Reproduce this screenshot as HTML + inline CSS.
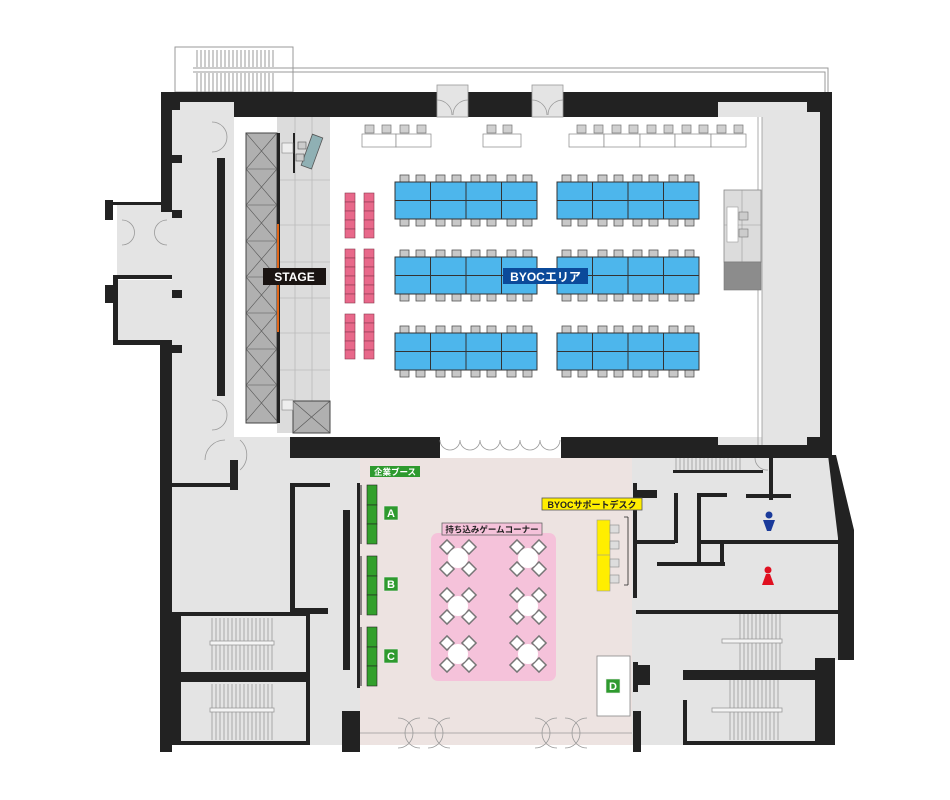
<!DOCTYPE html>
<html><head><meta charset="utf-8"><style>
html,body{margin:0;padding:0;background:#fff;width:950px;height:800px;overflow:hidden}
svg{display:block}
text{font-family:"Liberation Sans","Noto Sans CJK JP",sans-serif;font-weight:bold}
</style></head><body>
<svg width="950" height="800" viewBox="0 0 950 800" xmlns="http://www.w3.org/2000/svg">
<defs>
  <g id="tg">
    <g fill="#c8c8c8" stroke="#555" stroke-width="0.8">
      <rect x="5" y="-7" width="9" height="7"/><rect x="21" y="-7" width="9" height="7"/>
      <rect x="41" y="-7" width="9" height="7"/><rect x="57" y="-7" width="9" height="7"/>
      <rect x="76" y="-7" width="9" height="7"/><rect x="92" y="-7" width="9" height="7"/>
      <rect x="112" y="-7" width="9" height="7"/><rect x="128" y="-7" width="9" height="7"/>
      <rect x="5" y="37" width="9" height="7"/><rect x="21" y="37" width="9" height="7"/>
      <rect x="41" y="37" width="9" height="7"/><rect x="57" y="37" width="9" height="7"/>
      <rect x="76" y="37" width="9" height="7"/><rect x="92" y="37" width="9" height="7"/>
      <rect x="112" y="37" width="9" height="7"/><rect x="128" y="37" width="9" height="7"/>
    </g>
    <rect x="0" y="0" width="142" height="37" fill="#4db6ec" stroke="#333" stroke-width="1"/>
    <path d="M0 18.5H142M35.5 0V37M71 0V37M106.5 0V37" stroke="#333" stroke-width="1"/>
  </g>
  <g id="gt">
    <g fill="#fff" stroke="#777" stroke-width="1.5">
      <rect x="-16" y="-16" width="10" height="10" transform="rotate(45 -11 -11)"/>
      <rect x="6" y="-16" width="10" height="10" transform="rotate(45 11 -11)"/>
      <rect x="-16" y="6" width="10" height="10" transform="rotate(45 -11 11)"/>
      <rect x="6" y="6" width="10" height="10" transform="rotate(45 11 11)"/>
    </g>
    <circle cx="0" cy="0" r="10" fill="#fff"/>
  </g>
  <g id="pk"><rect x="0" y="0" width="10" height="9" fill="#e8688a" stroke="#8a3a50" stroke-width="0.6"/></g>
</defs>

<!-- top exterior stair/rail -->
<g fill="none" stroke="#999" stroke-width="1">
  <rect x="175" y="47" width="118" height="45"/>
  <path d="M193 68H828V92M193 72H825V92"/>
  <path d="M197 50V67M201 50V67M205 50V67M209 50V67M213 50V67M217 50V67M221 50V67M225 50V67M229 50V67M233 50V67M237 50V67M241 50V67M245 50V67M249 50V67M253 50V67M257 50V67M261 50V67M265 50V67M269 50V67M273 50V67"/>
  <path d="M197 73V92M201 73V92M205 73V92M209 73V92M213 73V92M217 73V92M221 73V92M225 73V92M229 73V92M233 73V92M237 73V92M241 73V92M245 73V92M249 73V92M253 73V92M257 73V92M261 73V92M265 73V92M269 73V92M273 73V92"/>
</g>

<!-- gray areas -->
<rect x="172" y="100" width="62" height="370" fill="#e4e4e4"/>
<rect x="234" y="437" width="56" height="23" fill="#e4e4e4"/>
<rect x="718" y="102" width="102" height="350" fill="#e4e4e4"/>
<rect x="117" y="205" width="55" height="70" fill="#e4e4e4"/>
<rect x="117" y="280" width="55" height="62" fill="#e4e4e4"/>
<rect x="172" y="458" width="190" height="287" fill="#e4e4e4"/>
<rect x="632" y="458" width="200" height="287" fill="#e4e4e4"/>
<polygon points="828,458 846,540 846,660 828,660" fill="#e4e4e4"/>
<rect x="360" y="458" width="272" height="287" fill="#ede3e1"/>

<!-- main hall -->
<rect x="234" y="117" width="528" height="320" fill="#fff"/>

<!-- walls -->
<g fill="#222">
  <rect x="161" y="92" width="671" height="10"/>
  <rect x="161" y="92" width="11" height="120"/>
  <rect x="172" y="102" width="8" height="8"/>
  <rect x="234" y="102" width="484" height="15"/>
  <rect x="820" y="92" width="12" height="366"/>
  <rect x="807" y="102" width="13" height="10"/>
  <rect x="807" y="437" width="13" height="21"/>
  <rect x="290" y="437" width="150" height="21"/>
  <rect x="561" y="437" width="157" height="21"/>
  <rect x="718" y="445" width="114" height="13"/>
  <rect x="160" y="342" width="12" height="410"/>
  <rect x="113" y="275" width="59" height="4"/>
  <rect x="113" y="340" width="59" height="5"/>
  <rect x="113" y="275" width="5" height="70"/>
  <rect x="105" y="285" width="10" height="18"/>
  <rect x="105" y="200" width="8" height="20"/>
  <rect x="113" y="202" width="50" height="3"/>
  <rect x="172" y="155" width="10" height="8"/>
  <rect x="172" y="210" width="10" height="8"/>
  <rect x="172" y="290" width="10" height="8"/>
  <rect x="172" y="345" width="10" height="8"/>
  <rect x="217" y="158" width="8" height="238"/>
  <rect x="230" y="460" width="8" height="30"/>
  <rect x="172" y="483" width="60" height="4"/>
  <rect x="290" y="483" width="40" height="4"/>
  <rect x="290" y="483" width="5" height="130"/>
  <rect x="290" y="608" width="38" height="6"/>
  <rect x="172" y="612" width="9" height="133"/>
  <rect x="175" y="612" width="135" height="4"/>
  <rect x="175" y="672" width="135" height="10"/>
  <rect x="175" y="741" width="135" height="4"/>
  <rect x="306" y="612" width="4" height="133"/>
  <rect x="343" y="510" width="7" height="160"/>
  <rect x="357" y="483" width="3" height="205"/>
  <rect x="342" y="711" width="18" height="41"/>
  <rect x="633" y="711" width="8" height="41"/>
  <rect x="633" y="662" width="5" height="30"/>
  <rect x="638" y="665" width="12" height="20"/>
  <rect x="633" y="483" width="4" height="115"/>
  <rect x="637" y="490" width="20" height="8"/>
  <rect x="673" y="470" width="90" height="3"/>
  <rect x="769" y="450" width="4" height="50"/>
  <rect x="746" y="494" width="45" height="4"/>
  <rect x="674" y="493" width="4" height="50"/>
  <rect x="697" y="493" width="4" height="72"/>
  <rect x="697" y="493" width="30" height="4"/>
  <rect x="637" y="540" width="38" height="4"/>
  <rect x="700" y="540" width="143" height="4"/>
  <rect x="657" y="562" width="68" height="4"/>
  <rect x="720" y="540" width="4" height="26"/>
  <rect x="636" y="610" width="207" height="4"/>
  <rect x="683" y="670" width="135" height="10"/>
  <rect x="683" y="700" width="4" height="45"/>
  <rect x="683" y="741" width="135" height="4"/>
  <rect x="815" y="658" width="20" height="87"/>
  <polygon points="828,455 836,455 854,530 854,660 838,660 838,538"/>
</g>

<!-- top doors -->
<g fill="#e4e4e4" stroke="#999" stroke-width="0.8">
  <rect x="437" y="85" width="31" height="32"/>
  <rect x="532" y="85" width="31" height="32"/>
</g>
<g fill="none" stroke="#999" stroke-width="0.8">
  <path d="M437 100a15 15 0 0 1 15 15M468 100a15 15 0 0 0 -15 15M532 100a15 15 0 0 1 15 15M563 100a15 15 0 0 0 -15 15"/>
  <path d="M440 440a10 10 0 0 0 20 0a10 10 0 0 0 20 0a10 10 0 0 0 20 0a10 10 0 0 0 20 0a10 10 0 0 0 20 0a10 10 0 0 0 20 0"/>
  <path d="M212 122a14 14 0 0 1 0 30M212 400a14 14 0 0 1 0 30M205 460a20 20 0 0 1 20 -20M240 470a20 20 0 0 0 0 -30"/>
  <path d="M122 220a12 12 0 0 1 0 25M167 220a12 12 0 0 0 0 25"/>
  <path d="M360 733H632"/>
  <path d="M398 718a12 12 0 0 1 0 30M420 718a12 12 0 0 0 0 30M428 718a12 12 0 0 1 0 30M450 718a12 12 0 0 0 0 30M535 718a12 12 0 0 1 0 30M557 718a12 12 0 0 0 0 30M565 718a12 12 0 0 1 0 30M587 718a12 12 0 0 0 0 30"/>
  <path d="M755 458a12 12 0 0 0 13 12"/>
  <path d="M762 117V445M758 117V445"/>
</g>

<!-- stairs -->
<g stroke="#999" stroke-width="0.8">
  <path d="M212 618V670M216 618V670M220 618V670M224 618V670M228 618V670M232 618V670M236 618V670M240 618V670M244 618V670M248 618V670M252 618V670M256 618V670M260 618V670M264 618V670M268 618V670M272 618V670"/>
  <path d="M212 684V740M216 684V740M220 684V740M224 684V740M228 684V740M232 684V740M236 684V740M240 684V740M244 684V740M248 684V740M252 684V740M256 684V740M260 684V740M264 684V740M268 684V740M272 684V740"/>
  <path d="M676 458V470M680 458V470M684 458V470M688 458V470M692 458V470M696 458V470M700 458V470M704 458V470M708 458V470M712 458V470M716 458V470M720 458V470M724 458V470M728 458V470M732 458V470M736 458V470M740 458V470"/>
  <path d="M740 614V670M744 614V670M748 614V670M752 614V670M756 614V670M760 614V670M764 614V670M768 614V670M772 614V670M776 614V670M780 614V670"/>
  <path d="M730 680V740M734 680V740M738 680V740M742 680V740M746 680V740M750 680V740M754 680V740M758 680V740M762 680V740M766 680V740M770 680V740M774 680V740M778 680V740"/>
</g>
<g fill="#f4f4f4" stroke="#999" stroke-width="0.8">
  <rect x="210" y="641" width="64" height="4"/>
  <rect x="210" y="708" width="64" height="4"/>
  <rect x="722" y="639" width="60" height="4"/>
  <rect x="712" y="708" width="70" height="4"/>
</g>

<!-- stage -->
<rect x="277" y="117" width="53" height="316" fill="#dcdcdc"/>
<g stroke="#bbb" stroke-width="0.8"><path d="M295 117V433M312 117V433M277 180H330M277 225H330M277 262H330M277 298H330M277 333H330M277 370H330"/></g>
<rect x="246" y="133" width="31" height="290" fill="#b0b0b0" stroke="#444" stroke-width="1"/>
<g stroke="#555" stroke-width="0.6" fill="none">
  <path d="M246 133L277 169L246 205L277 241L246 277L277 313L246 349L277 385L246 421"/>
  <path d="M277 133L246 169L277 205L246 241L277 277L246 313L277 349L246 385L277 421"/>
  <path d="M246 169H277M246 205H277M246 241H277M246 277H277M246 313H277M246 349H277M246 385H277"/>
</g>
<rect x="277" y="133" width="3" height="290" fill="#222"/>
<rect x="277" y="224" width="2" height="108" fill="#e0661a"/>
<rect x="293" y="401" width="37" height="32" fill="#b0b0b0" stroke="#444"/>
<path d="M293 401L330 433M330 401L293 433" stroke="#555" stroke-width="0.6"/>
<rect x="293" y="133" width="2" height="40" fill="#222"/>
<rect x="282" y="143" width="11" height="10" fill="#eee" stroke="#888" stroke-width="0.6"/>
<rect x="282" y="400" width="11" height="10" fill="#eee" stroke="#888" stroke-width="0.6"/>
<rect x="307" y="135" width="11" height="33" fill="#8fb0b4" stroke="#555" stroke-width="0.8" transform="rotate(20 312 150)"/>
<rect x="298" y="142" width="8" height="7" fill="#ccc" stroke="#555" stroke-width="0.6"/>
<rect x="296" y="154" width="8" height="7" fill="#ccc" stroke="#555" stroke-width="0.6"/>
<rect x="263" y="268" width="63" height="17" fill="#1a1412"/>
<text x="294.5" y="281" font-size="12" fill="#fff" text-anchor="middle">STAGE</text>

<!-- pink seats -->
<g>
  <use href="#pk" x="345" y="193"/><use href="#pk" x="345" y="202"/><use href="#pk" x="345" y="211"/><use href="#pk" x="345" y="220"/><use href="#pk" x="345" y="229"/>
  <use href="#pk" x="364" y="193"/><use href="#pk" x="364" y="202"/><use href="#pk" x="364" y="211"/><use href="#pk" x="364" y="220"/><use href="#pk" x="364" y="229"/>
  <use href="#pk" x="345" y="249"/><use href="#pk" x="345" y="258"/><use href="#pk" x="345" y="267"/><use href="#pk" x="345" y="276"/><use href="#pk" x="345" y="285"/><use href="#pk" x="345" y="294"/>
  <use href="#pk" x="364" y="249"/><use href="#pk" x="364" y="258"/><use href="#pk" x="364" y="267"/><use href="#pk" x="364" y="276"/><use href="#pk" x="364" y="285"/><use href="#pk" x="364" y="294"/>
  <use href="#pk" x="345" y="314"/><use href="#pk" x="345" y="323"/><use href="#pk" x="345" y="332"/><use href="#pk" x="345" y="341"/><use href="#pk" x="345" y="350"/>
  <use href="#pk" x="364" y="314"/><use href="#pk" x="364" y="323"/><use href="#pk" x="364" y="332"/><use href="#pk" x="364" y="341"/><use href="#pk" x="364" y="350"/>
</g>

<!-- top desks -->
<g fill="#d0d0d0" stroke="#777" stroke-width="0.7">
  <rect x="365" y="125" width="9" height="8"/><rect x="382" y="125" width="9" height="8"/><rect x="400" y="125" width="9" height="8"/><rect x="417" y="125" width="9" height="8"/>
  <rect x="487" y="125" width="9" height="8"/><rect x="503" y="125" width="9" height="8"/>
  <rect x="577" y="125" width="9" height="8"/><rect x="594" y="125" width="9" height="8"/><rect x="612" y="125" width="9" height="8"/><rect x="629" y="125" width="9" height="8"/><rect x="647" y="125" width="9" height="8"/><rect x="664" y="125" width="9" height="8"/><rect x="682" y="125" width="9" height="8"/><rect x="699" y="125" width="9" height="8"/><rect x="717" y="125" width="9" height="8"/><rect x="734" y="125" width="9" height="8"/>
</g>
<g fill="#fff" stroke="#888" stroke-width="0.7">
  <rect x="362" y="134" width="34" height="13"/><rect x="396" y="134" width="35" height="13"/>
  <rect x="483" y="134" width="38" height="13"/>
  <rect x="569" y="134" width="35" height="13"/><rect x="604" y="134" width="36" height="13"/><rect x="640" y="134" width="35" height="13"/><rect x="675" y="134" width="36" height="13"/><rect x="711" y="134" width="35" height="13"/>
</g>

<!-- blue table groups -->
<use href="#tg" x="395" y="182"/><use href="#tg" x="557" y="182"/>
<use href="#tg" x="395" y="257"/><use href="#tg" x="557" y="257"/>
<use href="#tg" x="395" y="333"/><use href="#tg" x="557" y="333"/>
<rect x="503" y="268" width="85" height="16" fill="#0b4a9a"/>
<text x="545.5" y="281" font-size="12" fill="#fff" text-anchor="middle">BYOCエリア</text>

<!-- right kiosk -->
<rect x="724" y="190" width="37" height="72" fill="#dcdcdc" stroke="#888" stroke-width="0.8"/>
<path d="M742 190V262M724 225H761" stroke="#999" stroke-width="0.6"/>
<rect x="727" y="207" width="11" height="35" fill="#fff" stroke="#999" stroke-width="0.6"/>
<rect x="739" y="212" width="9" height="8" fill="#ccc" stroke="#777" stroke-width="0.6"/>
<rect x="739" y="229" width="9" height="8" fill="#ccc" stroke="#777" stroke-width="0.6"/>
<rect x="724" y="262" width="37" height="28" fill="#8c8c8c" stroke="#777" stroke-width="0.6"/>

<!-- lower: 企業ブース -->
<rect x="370" y="466" width="50" height="11" fill="#2e9a2e"/>
<text x="395" y="475" font-size="8.5" fill="#fff" text-anchor="middle">企業ブース</text>
<g fill="#33a02c" stroke="#222" stroke-width="0.6">
  <rect x="367" y="485" width="10" height="20"/><rect x="367" y="505" width="10" height="19"/><rect x="367" y="524" width="10" height="20"/>
  <rect x="367" y="556" width="10" height="20"/><rect x="367" y="576" width="10" height="19"/><rect x="367" y="595" width="10" height="20"/>
  <rect x="367" y="627" width="10" height="20"/><rect x="367" y="647" width="10" height="19"/><rect x="367" y="666" width="10" height="20"/>
</g>
<path d="M361 485V544M361 556V615M361 627V686" stroke="#222" stroke-width="1"/>

<!-- D box (under label) -->
<rect x="597" y="656" width="33" height="60" fill="#fff" stroke="#888" stroke-width="0.8"/>

<g fill="#2e9a2e" stroke="#eee" stroke-width="0.6">
  <rect x="384" y="506" width="14" height="14"/><rect x="384" y="577" width="14" height="14"/><rect x="384" y="649" width="14" height="14"/><rect x="606" y="679" width="14" height="14"/>
</g>
<g font-size="11" fill="#fff" text-anchor="middle">
  <text x="391" y="517">A</text><text x="391" y="588">B</text><text x="391" y="660">C</text><text x="613" y="690">D</text>
</g>

<!-- game corner -->
<rect x="431" y="533" width="125" height="148" rx="7" fill="#f5c2da"/>
<rect x="442" y="523" width="100" height="12" fill="#f5c2da" stroke="#666" stroke-width="0.8"/>
<text x="492" y="532.5" font-size="8.5" fill="#222" text-anchor="middle">持ち込みゲームコーナー</text>
<use href="#gt" x="458" y="558"/><use href="#gt" x="528" y="558"/>
<use href="#gt" x="458" y="606"/><use href="#gt" x="528" y="606"/>
<use href="#gt" x="458" y="654"/><use href="#gt" x="528" y="654"/>

<!-- BYOC support desk -->
<rect x="542" y="498" width="100" height="12" fill="#ffee00" stroke="#555" stroke-width="0.8"/>
<text x="592" y="508" font-size="9" fill="#222" text-anchor="middle">BYOCサポートデスク</text>
<rect x="597" y="520" width="13" height="71" fill="#ffee00" stroke="#999" stroke-width="0.6"/>
<path d="M597 555H610" stroke="#999" stroke-width="0.6"/>
<g fill="#ddd" stroke="#888" stroke-width="0.6">
  <rect x="610" y="525" width="9" height="8"/><rect x="610" y="541" width="9" height="8"/><rect x="610" y="559" width="9" height="8"/><rect x="610" y="575" width="9" height="8"/>
</g>
<path d="M628 517V585M624 517H628M624 585H628" stroke="#222" stroke-width="0.8" fill="none"/>

<!-- toilets -->
<circle cx="769" cy="515" r="3.5" fill="#1a3a9a"/>
<polygon points="763,520 775,520 771,531 767,531" fill="#1a3a9a"/>
<circle cx="768" cy="570" r="3.5" fill="#e01020"/>
<polygon points="766,574 770,574 774,585 762,585" fill="#e01020"/>
</svg>
</body></html>
